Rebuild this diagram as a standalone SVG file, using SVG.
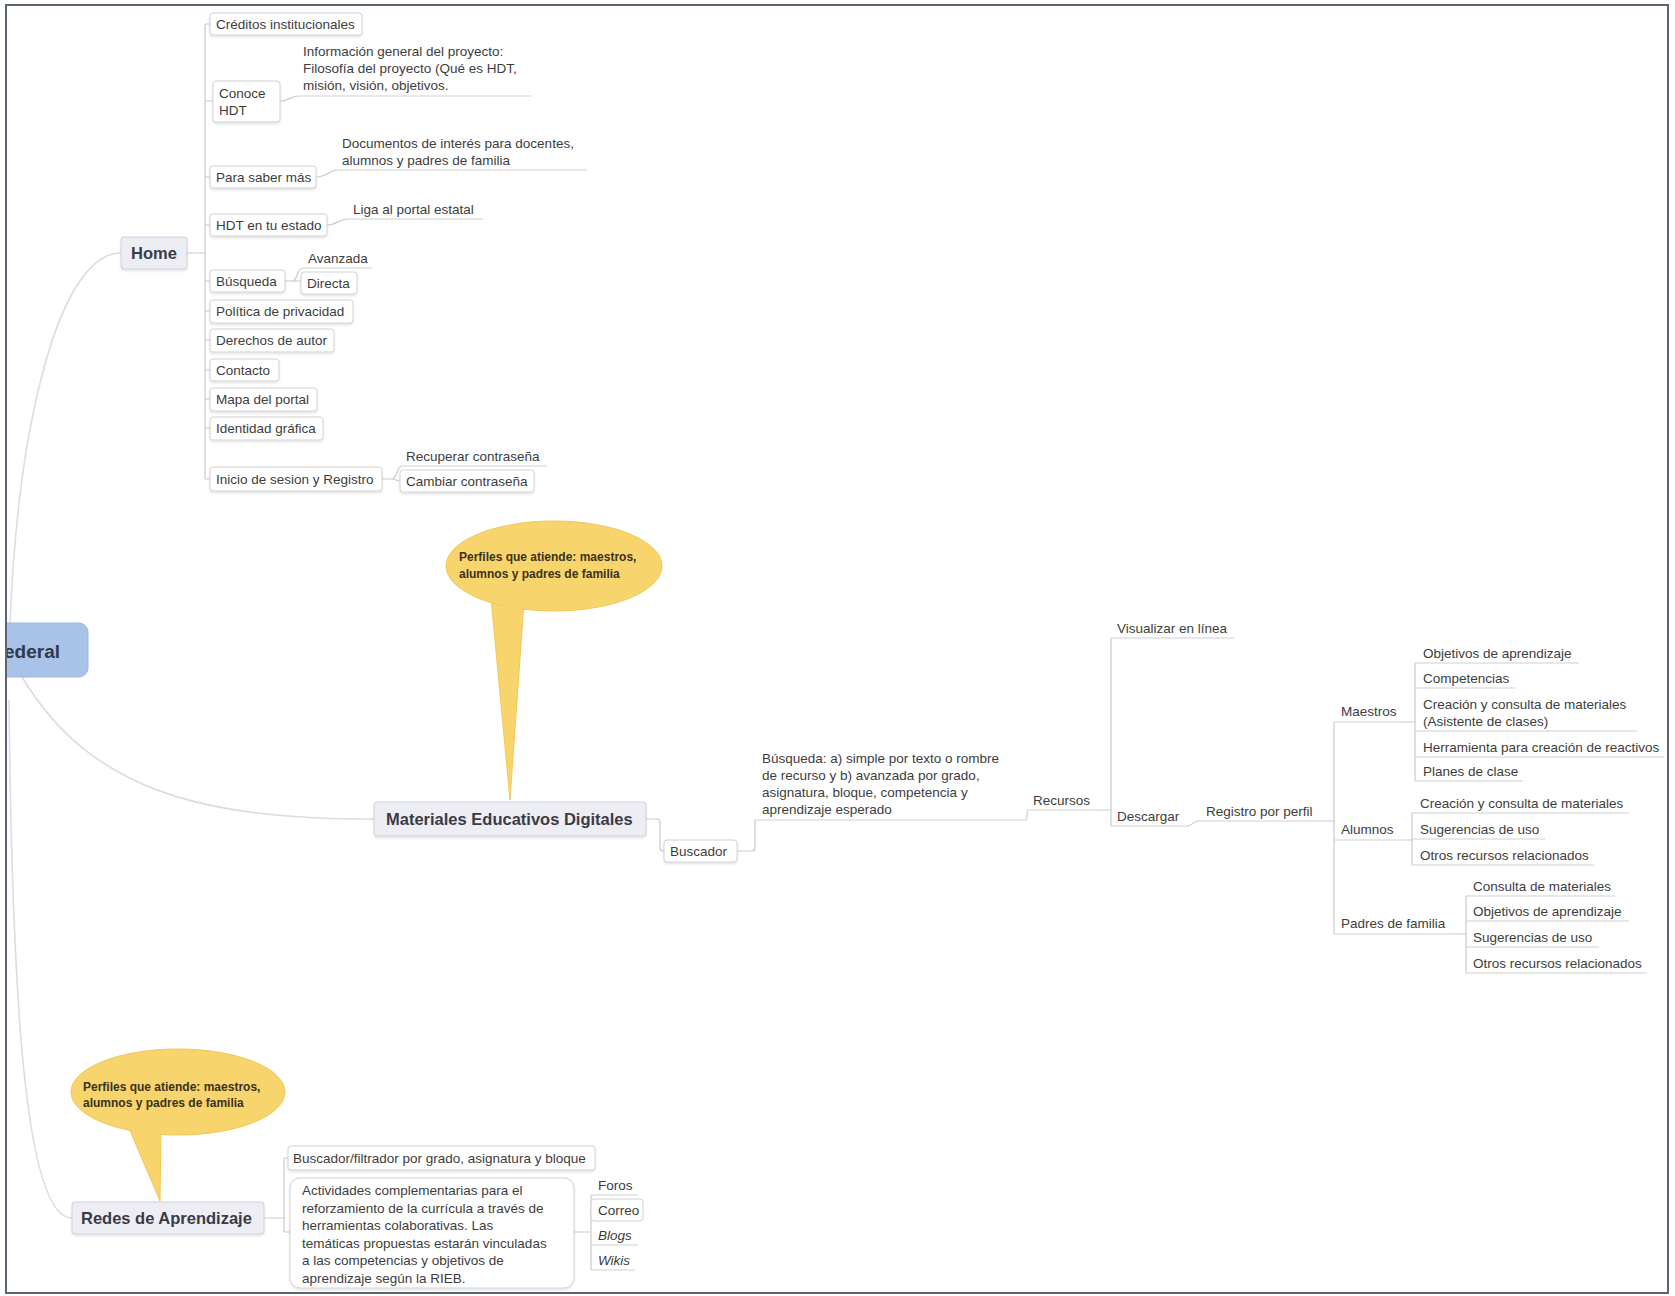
<svg xmlns="http://www.w3.org/2000/svg" width="1675" height="1296" viewBox="0 0 1675 1296">
<style>
.t{font-family:"Liberation Sans",Arial,sans-serif;font-size:13.5px;fill:#3d3d3d}
.i{font-style:italic}
.tb{font-family:"Liberation Sans",Arial,sans-serif;font-size:16.5px;font-weight:bold;fill:#3b3b47}
.tc{font-family:"Liberation Sans",Arial,sans-serif;font-size:12px;font-weight:bold;fill:#3a321c}
.tr{font-family:"Liberation Sans",Arial,sans-serif;font-size:19px;font-weight:bold;fill:#2f3a4d}
.box{fill:#fff;stroke:#d2d2d2;stroke-width:1}
.topic{fill:#ededf4;stroke:#d0d0dc;stroke-width:1}
.root{fill:#a9c2e8;stroke:#9db7df;stroke-width:1}
.ul{fill:none;stroke:#cfcfcf;stroke-width:1.2}
.ln{fill:none;stroke:#cacaca;stroke-width:1.2}
.curve{fill:none;stroke:#dcdcdc;stroke-width:1.6}
.call{fill:#f8d46c;stroke:#efc859;stroke-width:1}
</style>
<defs>
<clipPath id="fr"><rect x="7" y="6" width="1660" height="1286"/></clipPath>
<filter id="sh" x="-10%" y="-20%" width="120%" height="150%"><feDropShadow dx="0" dy="1.5" stdDeviation="1.2" flood-color="#000" flood-opacity="0.12"/></filter>
</defs>
<rect x="0" y="0" width="1675" height="1296" fill="#fff"/>
<g clip-path="url(#fr)">
<g id="connectors">
<path class="curve" d="M10,624 C18,420 60,253 121,253"/>
<path class="curve" d="M22,677 C90,790 200,819 374,819"/>
<path class="curve" d="M9,700 C12,1000 25,1218 72,1218"/>
<path class="ln" d="M187,253 H205 M205,24 V479 M205,24 H210 M205,101 H213 M205,177 H210 M205,225 H210 M205,281 H210 M205,311 H210 M205,340 H210 M205,370 H210 M205,399 H210 M205,428 H210 M205,479 H210"/>
<path class="ln" d="M280,101 C290,101 290,96 299,96"/>
<path class="ln" d="M316,177 C328,177 328,170 338,170"/>
<path class="ln" d="M327,225 C338,225 338,219 348,219"/>
<path class="ln" d="M285,281 H293 C297,281 297,268 303,268 M293,281 H301"/>
<path class="ln" d="M382,479 H392 C397,479 397,466 402,466 M392,479 C396,479 396,481 400,481"/>
<path class="ln" d="M646,819 H657 Q660,819 660,822 V848 Q660,851 663,851 H664"/>
<path class="ln" d="M737,851 H752 Q755,851 755,848 V820"/>
<path class="ln" d="M1026,820 C1028,820 1026,810 1028,810"/>
<path class="ln" d="M1100,810 H1111 M1111,638 V826"/>
<path class="ln" d="M1186,826 C1193,826 1193,821 1199,821"/>
<path class="ln" d="M1319,821 H1334 M1334,722 V934"/>
<path class="ln" d="M1402,722 H1415 M1415,663 V781"/>
<path class="ln" d="M1406,840 H1412 M1412,813 V865"/>
<path class="ln" d="M1451,934 H1466 M1466,896 V973"/>
<path class="ln" d="M264,1218 H284 M284,1158 V1232 M284,1158 H288 M284,1232 H290"/>
<path class="ln" d="M574,1232 H591 M591,1195 V1270"/>
</g>

<g id="root">
<rect class="root" x="-100" y="623" width="188" height="54" rx="9"/>
<text class="tr" x="4" y="658">ederal</text>
</g>

<g id="home">
<rect class="topic" x="121" y="237" width="66" height="32" rx="3" filter="url(#sh)"/>
<text class="tb" x="131" y="259">Home</text>
</g>
<g id="creditos"><rect class="box" x="210" y="13" width="152" height="22" rx="3" filter="url(#sh)"/><text class="t" x="216" y="29">Créditos institucionales</text></g>
<g id="conoce"><rect class="box" x="213" y="81" width="67" height="41" rx="3" filter="url(#sh)"/><text class="t" x="219" y="98">Conoce</text><text class="t" x="219" y="115">HDT</text></g>
<g id="info"><text class="t" x="303" y="56">Información general del proyecto:</text><text class="t" x="303" y="73">Filosofía del proyecto (Qué es HDT,</text><text class="t" x="303" y="90">misión, visión, objetivos.</text><path class="ul" d="M299,96 H531"/></g>
<g id="para-saber"><rect class="box" x="210" y="166" width="106" height="22" rx="3" filter="url(#sh)"/><text class="t" x="216" y="182">Para saber más</text></g>
<g id="documentos"><text class="t" x="342" y="148">Documentos de interés para docentes,</text><text class="t" x="342" y="165">alumnos y padres de familia</text><path class="ul" d="M338,170 H587"/></g>
<g id="hdt-estado"><rect class="box" x="210" y="214" width="117" height="22" rx="3" filter="url(#sh)"/><text class="t" x="216" y="230">HDT en tu estado</text></g>
<g id="liga"><text class="t" x="353" y="214">Liga al portal estatal</text><path class="ul" d="M348,219 H483"/></g>
<g id="busqueda-home"><rect class="box" x="210" y="270" width="75" height="22" rx="3" filter="url(#sh)"/><text class="t" x="216" y="286">Búsqueda</text></g>
<g id="avanzada"><text class="t" x="308" y="263">Avanzada</text><path class="ul" d="M303,268 H372"/></g>
<g id="directa"><rect class="box" x="301" y="272" width="56" height="22" rx="3" filter="url(#sh)"/><text class="t" x="307" y="288">Directa</text></g>
<g id="politica"><rect class="box" x="210" y="300" width="143" height="23" rx="3" filter="url(#sh)"/><text class="t" x="216" y="316">Política de privacidad</text></g>
<g id="derechos"><rect class="box" x="210" y="329" width="124" height="23" rx="3" filter="url(#sh)"/><text class="t" x="216" y="345">Derechos de autor</text></g>
<g id="contacto"><rect class="box" x="210" y="359" width="69" height="22" rx="3" filter="url(#sh)"/><text class="t" x="216" y="375">Contacto</text></g>
<g id="mapa"><rect class="box" x="210" y="388" width="107" height="23" rx="3" filter="url(#sh)"/><text class="t" x="216" y="404">Mapa del portal</text></g>
<g id="identidad"><rect class="box" x="210" y="417" width="113" height="23" rx="3" filter="url(#sh)"/><text class="t" x="216" y="433">Identidad gráfica</text></g>
<g id="inicio"><rect class="box" x="210" y="467" width="172" height="24" rx="3" filter="url(#sh)"/><text class="t" x="216" y="484">Inicio de sesion y Registro</text></g>
<g id="recuperar"><text class="t" x="406" y="461">Recuperar contraseña</text><path class="ul" d="M402,466 H547"/></g>
<g id="cambiar"><rect class="box" x="400" y="470" width="134" height="22" rx="3" filter="url(#sh)"/><text class="t" x="406" y="486">Cambiar contraseña</text></g>

<g id="callout-1">
<path class="call" d="M491,598 L510,800 L524,602 Z"/>
<ellipse class="call" cx="554" cy="566" rx="108" ry="45"/>
<path d="M493,605 L510,795 L522,607 Z" fill="#f8d46c"/>
<text class="tc" x="459" y="561">Perfiles que atiende: maestros,</text>
<text class="tc" x="459" y="578">alumnos y padres de familia</text>
</g>

<g id="materiales">
<rect class="topic" x="374" y="802" width="272" height="34" rx="3" filter="url(#sh)"/>
<text class="tb" x="386" y="825">Materiales Educativos Digitales</text>
</g>
<g id="buscador"><rect class="box" x="664" y="840" width="73" height="22" rx="3" filter="url(#sh)"/><text class="t" x="670" y="856">Buscador</text></g>
<g id="busqueda-med"><text class="t" x="762" y="763">Búsqueda: a) simple por texto o rombre</text><text class="t" x="762" y="780">de recurso y b) avanzada por grado,</text><text class="t" x="762" y="797">asignatura, bloque, competencia y</text><text class="t" x="762" y="814">aprendizaje esperado</text><path class="ul" d="M755,820 H1026"/></g>
<g id="recursos"><text class="t" x="1033" y="805">Recursos</text><path class="ul" d="M1028,810 H1100"/></g>
<g id="visualizar"><text class="t" x="1117" y="633">Visualizar en línea</text><path class="ul" d="M1111,638 H1234"/></g>
<g id="descargar"><text class="t" x="1117" y="821">Descargar</text><path class="ul" d="M1111,826 H1186"/></g>
<g id="registro"><text class="t" x="1206" y="816">Registro por perfil</text><path class="ul" d="M1199,821 H1319"/></g>
<g id="maestros"><text class="t" x="1341" y="716">Maestros</text><path class="ul" d="M1334,722 H1402"/></g>
<g id="alumnos"><text class="t" x="1341" y="834">Alumnos</text><path class="ul" d="M1334,840 H1406"/></g>
<g id="padres"><text class="t" x="1341" y="928">Padres de familia</text><path class="ul" d="M1334,934 H1451"/></g>
<g id="m-objetivos"><text class="t" x="1423" y="658">Objetivos de aprendizaje</text><path class="ul" d="M1415,663 H1579"/></g>
<g id="m-competencias"><text class="t" x="1423" y="683">Competencias</text><path class="ul" d="M1415,688 H1515"/></g>
<g id="m-creacion"><text class="t" x="1423" y="709">Creación y consulta de materiales</text><text class="t" x="1423" y="726">(Asistente de clases)</text><path class="ul" d="M1415,731 H1637"/></g>
<g id="m-herramienta"><text class="t" x="1423" y="752">Herramienta para creación de reactivos</text><path class="ul" d="M1415,757 H1664"/></g>
<g id="m-planes"><text class="t" x="1423" y="776">Planes de clase</text><path class="ul" d="M1415,781 H1523"/></g>
<g id="a-creacion"><text class="t" x="1420" y="808">Creación y consulta de materiales</text><path class="ul" d="M1412,813 H1629"/></g>
<g id="a-sugerencias"><text class="t" x="1420" y="834">Sugerencias de uso</text><path class="ul" d="M1412,839 H1545"/></g>
<g id="a-otros"><text class="t" x="1420" y="860">Otros recursos relacionados</text><path class="ul" d="M1412,865 H1594"/></g>
<g id="p-consulta"><text class="t" x="1473" y="891">Consulta de materiales</text><path class="ul" d="M1466,896 H1615"/></g>
<g id="p-objetivos"><text class="t" x="1473" y="916">Objetivos de aprendizaje</text><path class="ul" d="M1466,921 H1629"/></g>
<g id="p-sugerencias"><text class="t" x="1473" y="942">Sugerencias de uso</text><path class="ul" d="M1466,947 H1599"/></g>
<g id="p-otros"><text class="t" x="1473" y="968">Otros recursos relacionados</text><path class="ul" d="M1466,973 H1647"/></g>

<g id="callout-2">
<path class="call" d="M128,1126 L160,1201 L161,1128 Z"/>
<ellipse class="call" cx="178" cy="1092" rx="107" ry="43"/>
<path d="M131,1128 L159,1195 L158,1130 Z" fill="#f8d46c"/>
<text class="tc" x="83" y="1091">Perfiles que atiende: maestros,</text>
<text class="tc" x="83" y="1107">alumnos y padres de familia</text>
</g>

<g id="redes">
<rect class="topic" x="72" y="1202" width="192" height="32" rx="3" filter="url(#sh)"/>
<text class="tb" x="81" y="1224">Redes de Aprendizaje</text>
</g>
<g id="filtrador"><rect class="box" x="288" y="1146" width="307" height="24" rx="3" filter="url(#sh)"/><text class="t" x="293" y="1163">Buscador/filtrador por grado, asignatura y bloque</text></g>
<g id="actividades"><rect class="box" x="290" y="1178" width="284" height="110" rx="10" filter="url(#sh)"/>
<text class="t" x="302" y="1195">Actividades complementarias para el</text>
<text class="t" x="302" y="1213">reforzamiento de la currícula a través de</text>
<text class="t" x="302" y="1230">herramientas colaborativas. Las</text>
<text class="t" x="302" y="1248">temáticas propuestas estarán vinculadas</text>
<text class="t" x="302" y="1265">a las competencias y objetivos de</text>
<text class="t" x="302" y="1283">aprendizaje según la RIEB.</text></g>
<g id="foros"><text class="t" x="598" y="1190">Foros</text><path class="ul" d="M591,1195 H638"/></g>
<g id="correo"><rect class="box" x="591" y="1199" width="52" height="22" rx="3"/><text class="t" x="598" y="1215">Correo</text></g>
<g id="blogs"><text class="t i" x="598" y="1240">Blogs</text><path class="ul" d="M591,1245 H638"/></g>
<g id="wikis"><text class="t i" x="598" y="1265">Wikis</text><path class="ul" d="M591,1270 H635"/></g>
</g>
<rect x="6" y="5" width="1662" height="1288" fill="none" stroke="#5b6572" stroke-width="2"/>
</svg>
